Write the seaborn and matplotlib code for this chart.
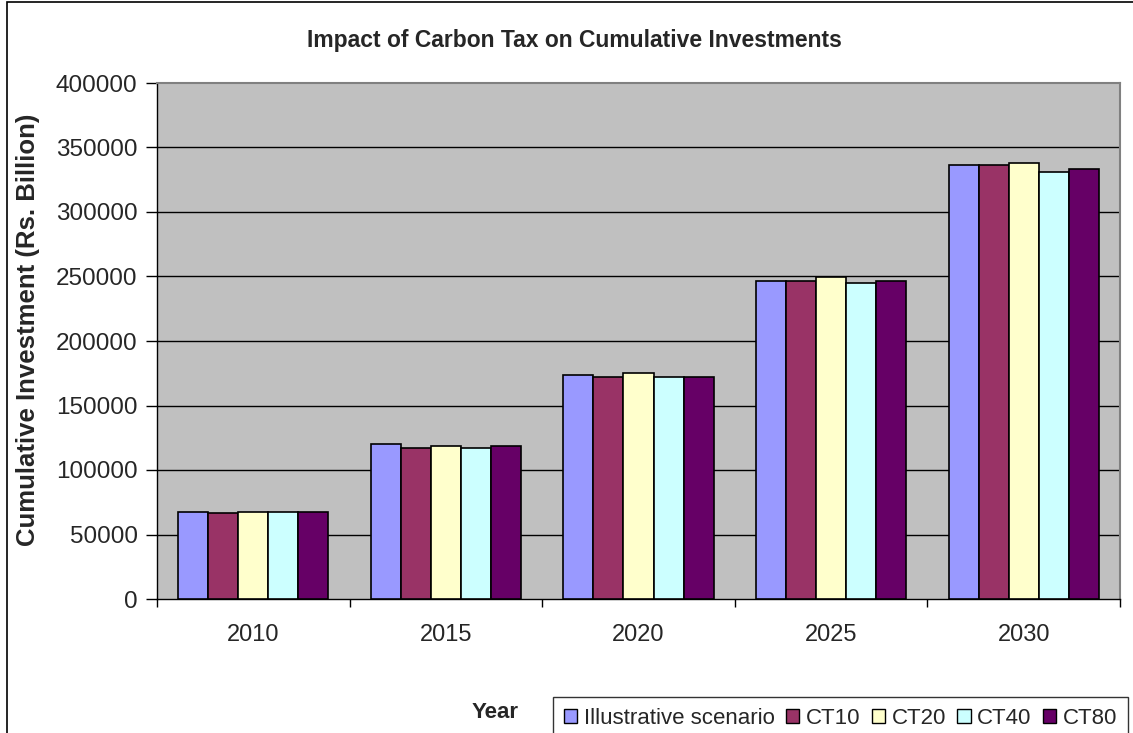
import matplotlib
matplotlib.use("Agg")
import matplotlib.pyplot as plt
from matplotlib.patches import Patch, Rectangle
import pandas as pd
import seaborn as sns

# Cumulative investment (Rs. Billion) by year and carbon-tax scenario
years = ["2010", "2015", "2020", "2025", "2030"]
scenarios = ["Illustrative scenario", "CT10", "CT20", "CT40", "CT80"]
illustrative = [67700, 120100, 173400, 246500, 336700]
ct10 = [66400, 117300, 172100, 246500, 336700]
ct20 = [67500, 118900, 175000, 249600, 338000]
ct40 = [67500, 117300, 172100, 245000, 331000]
ct80 = [67700, 118900, 172100, 246500, 333600]
colors = ["#9999FF", "#993366", "#FFFFCC", "#CCFFFF", "#660066"]

series = [illustrative, ct10, ct20, ct40, ct80]
df = pd.DataFrame(
    [(y, s, v) for s, vals in zip(scenarios, series) for y, v in zip(years, vals)],
    columns=["year", "scenario", "value"],
)

sns.set_theme(style="white")
plt.rcParams["font.family"] = ["Liberation Sans", "DejaVu Sans"]

W, H = 1133, 733
fig = plt.figure(figsize=(W / 100, H / 100), dpi=100)
ax = fig.add_axes([157 / W, 1 - 599 / H, (1120 - 157) / W, (599 - 83) / H])
ax.set_facecolor("#C0C0C0")

sns.barplot(
    data=df, x="year", y="value", hue="scenario", hue_order=scenarios,
    order=years, palette=colors, width=0.78, edgecolor="black",
    linewidth=1.2, saturation=1, legend=False, ax=ax, zorder=3,
)

ax.set_ylim(0, 400000)
ax.set_xlim(-0.5, len(years) - 0.5)
yt = list(range(0, 400001, 50000))
ax.set_yticks(yt)
ax.set_yticklabels([str(v) for v in yt], fontsize=17.5)
for v in yt[1:-1]:
    ax.axhline(v, color="black", linewidth=1.0, zorder=1)

# Category boundary ticks, labels centred under each group
ax.set_xticks([i - 0.5 for i in range(len(years) + 1)])
ax.set_xticklabels([])
ax.set_xticks(range(len(years)), minor=True)
ax.set_xticklabels(years, minor=True, fontsize=17)
ax.tick_params(axis="x", which="major", direction="out", length=6, width=1, color="black", bottom=True)
ax.tick_params(axis="x", which="minor", length=0, pad=18)
ax.tick_params(axis="y", direction="out", length=8, width=1, color="black", left=True, pad=6)

for side in ("top", "right"):
    ax.spines[side].set_color("#808080")
    ax.spines[side].set_linewidth(1.5)
for side in ("left", "bottom"):
    ax.spines[side].set_color("black")
    ax.spines[side].set_linewidth(1.0)

ax.set_xlabel("")
ax.set_ylabel("")
fig.text(28 / W, 1 - 330 / H, "Cumulative Investment (Rs. Billion)", rotation=90,
         ha="center", va="center", fontsize=18.5, fontweight="bold")
fig.text(574 / W, 1 - 40 / H, "Impact of Carbon Tax on Cumulative Investments",
         ha="center", va="center", fontsize=16.5, fontweight="bold")

fig.text(495 / W, 1 - 712 / H, "Year", ha="center", va="center", fontsize=16, fontweight="bold")

handles = [Patch(facecolor=c, edgecolor="black", linewidth=1.0, label=s) for s, c in zip(scenarios, colors)]
leg = fig.legend(
    handles=handles, loc="lower left", bbox_to_anchor=(553 / W, 1 - 740 / H), ncol=5,
    fontsize=16, frameon=True, fancybox=False, handlelength=0.6, handleheight=0.6,
    handletextpad=0.3, columnspacing=0.5, borderpad=0.5, borderaxespad=0,
)
leg.get_frame().set_edgecolor("black")
leg.get_frame().set_linewidth(1.0)

# outer chart border
fig.patches.append(Rectangle((7 / W, -0.1), 1.2, 1 - 2 / H + 0.1, transform=fig.transFigure,
                             fill=False, edgecolor="black", linewidth=1.2))

fig.savefig("out.png", dpi=100)
